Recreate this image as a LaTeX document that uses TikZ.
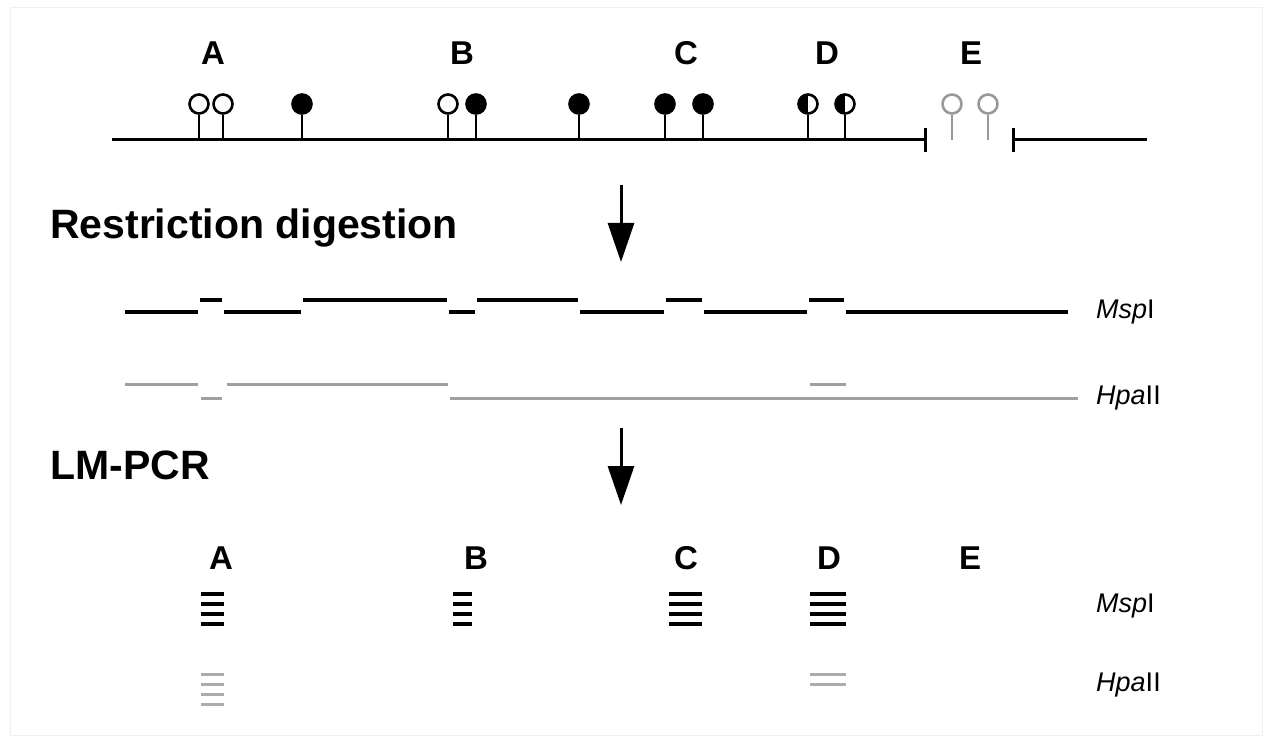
\documentclass[tikz,border=0pt]{standalone}
\usepackage{fontspec}
\setmainfont{Liberation Sans}
\usetikzlibrary{arrows.meta}

\begin{document}
\begin{tikzpicture}[
  x=1pt, y=-1pt,
  dna/.style={line width=3pt, black},
  site/.style={circle, draw=black, line width=2.6pt, fill=white,
    minimum size=19pt, inner sep=0pt},
  fullsite/.style={site, fill=black},
  halfsite/.style={site, path picture={\fill[black]
    (path picture bounding box.south west) rectangle (path picture bounding box.north);}},
  greysite/.style={site, draw=gray!80},
  stem/.style={line width=2.8pt},
  frag/.style={line width=3.5pt, black},
  hfrag/.style={line width=3pt, gray!75},
  band/.style={line width=3.5pt, black},
  hband/.style={line width=3pt, gray!65},
  locus/.style={font=\fontsize{33}{35}\selectfont\bfseries, inner sep=0pt},
  heading/.style={font=\fontsize{41}{43}\selectfont\bfseries, anchor=west, inner sep=0pt},
  enzyme/.style={font=\fontsize{27}{29}\selectfont, anchor=west, inner sep=0pt},
  bigarrow/.style={line width=3pt, -{Triangle[width=26pt,length=39pt]}}
]
\useasboundingbox (0,0) rectangle (1268,743);
\draw[gray!12, line width=1pt] (10,8) rectangle (1262,735);

% Genomic fragment with CpG sites
\coordinate (dnaL) at (112,140);
\coordinate (dnaR) at (925,140);
\coordinate (dnaL2) at (1013,140);
\coordinate (dnaR2) at (1147,140);
\draw[dna] (dnaL) -- (dnaR);
\draw[dna] (dnaL2) -- (dnaR2);
\draw[dna] ([yshift=-12pt]dnaR) -- ([yshift=12pt]dnaR);
\draw[dna] ([yshift=-12pt]dnaL2) -- ([yshift=12pt]dnaL2);

\foreach \x/\kind [count=\i] in {199/site, 223/site, 302/fullsite, 448/site, 476/fullsite,
    579/fullsite, 665/fullsite, 703/fullsite, 808/halfsite, 845/halfsite} {
  \node[\kind] (s\i) at (\x,104) {};
  \draw[stem] (s\i.south) -- (s\i.south |- dnaL);
}
\foreach \x [count=\i] in {952, 988} {
  \node[greysite] (e\i) at (\x,104) {};
  \draw[stem, gray!80] (e\i.south) -- (e\i.south |- dnaL);
}

% Locus labels
\node[locus] (tA) at (213,53) {A};
\node[locus] (tB) at (462,53) {B};
\node[locus] (tC) at (686,53) {C};
\node[locus] (tD) at (827,53) {D};
\node[locus] (tE) at (971,53) {E};

% Restriction digestion
\node[heading] (digest) at (50,228) {Restriction digestion};
\coordinate (ar1s) at (621,185);
\coordinate (ar1e) at (621,262);
\draw[bigarrow] (ar1s) -- (ar1e);

% MspI fragments
\foreach \a/\b/\y in {125/198/312, 200/222/300, 224/301/312, 303/447/300, 449/475/312,
    477/578/300, 580/664/312, 666/702/300, 704/807/312, 809/844/300, 846/1068/312} {
  \draw[frag] (\a,\y) -- (\b,\y);
}
\node[enzyme] (msp1) at (1096,312) {\textit{Msp}I};

% HpaII fragments
\foreach \a/\b/\y in {125/198/384, 201/222/398, 227/448/384, 450/1078/398, 810/846/384} {
  \draw[hfrag] (\a,\y) -- (\b,\y);
}
\node[enzyme] (hpa1) at (1096,398) {\textit{Hpa}II};

% LM-PCR
\node[heading] (lmpcr) at (50,465) {LM-PCR};
\coordinate (ar2s) at (621,428);
\coordinate (ar2e) at (621,505);
\draw[bigarrow] (ar2s) -- (ar2e);

\node[locus] (bA) at (221,558) {A};
\node[locus] (bB) at (476,558) {B};
\node[locus] (bC) at (686,558) {C};
\node[locus] (bD) at (829,558) {D};
\node[locus] (bE) at (970,558) {E};

% PCR products
\foreach \a/\b in {201/224, 453/472, 669/702, 810/846} {
  \foreach \y in {594,604,614,624} {
    \draw[band] (\a,\y) -- (\b,\y);
  }
}
\foreach \y in {674,684,694,704} {
  \draw[hband] (201,\y) -- (224,\y);
}
\foreach \y in {674,684} {
  \draw[hband] (810,\y) -- (846,\y);
}
\node[enzyme] (msp2) at (1096,606) {\textit{Msp}I};
\node[enzyme] (hpa2) at (1096,685) {\textit{Hpa}II};

\end{tikzpicture}
\end{document}
